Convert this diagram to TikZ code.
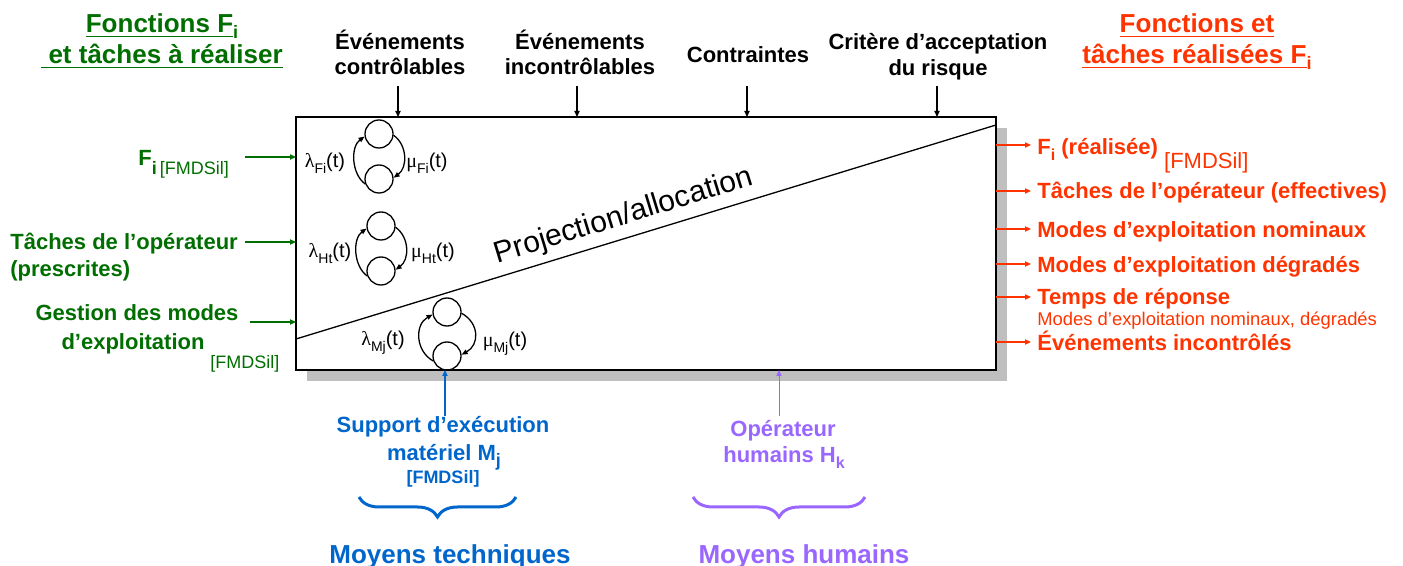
\documentclass[tikz,border=0pt]{standalone}
\usepackage{fontspec}
\setmainfont{Liberation Sans}
\newfontfamily\grk{Liberation Serif}
\usetikzlibrary{arrows.meta,decorations.pathreplacing}
\definecolor{fgreen}{RGB}{0,110,0}
\definecolor{fred}{RGB}{255,51,0}
\definecolor{fblue}{RGB}{0,102,204}
\definecolor{fpurp}{RGB}{153,102,255}
\definecolor{shad}{RGB}{191,191,191}
\newcommand\myul[1]{\setbox0\hbox{#1}\rlap{\rule[-2.2pt]{\wd0}{0.9pt}}\box0}
\newcommand\ratelbl[2]{{\grk #1}\raisebox{-3pt}{\fontsize{7}{8}\selectfont #2}(t)}
\begin{document}
\begin{tikzpicture}[x=0.5pt,y=-0.5pt,
  lbl/.style={font=\fontsize{11}{13}\selectfont\bfseries, inner sep=0pt},
  ttl/.style={font=\fontsize{13}{15}\selectfont\bfseries, inner sep=0pt},
  arr/.style={line width=0.6pt, -{Triangle[length=3pt,width=2.6pt]}},
  lp/.style={circle, draw, line width=0.65pt, minimum size=14pt, inner sep=0pt},
  lparc/.style={line width=0.65pt, -{Triangle[length=3pt,width=2.4pt]}},
  rate/.style={font=\fontsize{10}{12}\selectfont, inner sep=0pt, anchor=base},
  brc/.style={decorate, decoration={brace, amplitude=10pt}, line width=1.5pt}]
\useasboundingbox (0,0) rectangle (1403,566);
% box
\coordinate (bNW) at (296,117);
\coordinate (bSE) at (996,370);
\fill[shad] (307,128) rectangle (1007,381);
\draw[fill=white, line width=0.8pt] (bNW) rectangle (bSE);
\coordinate (dL) at (296,339);
\coordinate (dR) at (996,125);
\draw[line width=0.65pt] (dL) -- (dR);
\node[font=\fontsize{15}{18}\selectfont, rotate=17, anchor=base, inner sep=0pt] (proj) at (626,224) {Projection/allocation};
% titles
\node[ttl, text=fgreen, anchor=base] (lt1) at (162,33) {\myul{Fonctions F}\raisebox{-3pt}{\fontsize{9}{10}\selectfont i}};
\node[ttl, text=fgreen, anchor=base] (lt2) at (162,64) {\myul{\ et tâches à réaliser}};
\node[ttl, text=fred, anchor=base] (rt1) at (1197,33) {\myul{Fonctions et}};
\node[ttl, text=fred, anchor=base] (rt2) at (1197,64) {\myul{tâches réalisées F}\raisebox{-3pt}{\fontsize{9}{10}\selectfont i}};
% top labels
\node[lbl, anchor=base] (ec1) at (400,50) {Événements};
\node[lbl, anchor=base] (ec2) at (400,75) {contrôlables};
\node[lbl, anchor=base] (ei1) at (580,50) {Événements};
\node[lbl, anchor=base] (ei2) at (580,75) {incontrôlables};
\node[lbl, anchor=base] (ct1) at (748,63) {Contraintes};
\node[lbl, anchor=base] (cr1) at (938,50) {Critère d’acceptation};
\node[lbl, anchor=base] (cr2) at (938,76) {du risque};
\coordinate (ta1) at (398,86);
\coordinate (ta2) at (577,86);
\coordinate (ta3) at (747,86);
\coordinate (ta4) at (937,86);
\foreach \c in {ta1,ta2,ta3,ta4} \draw[arr] (\c) -- (\c |- bNW);
% left inputs
\node[lbl, text=fgreen, anchor=base west] (fi) at (138,166) {F\raisebox{-4.5pt}{\fontsize{9}{10}\selectfont i\,\mdseries[FMDSil]}};
\node[lbl, text=fgreen, anchor=base west] (tp1) at (10,250) {Tâches de l’opérateur};
\node[lbl, text=fgreen, anchor=base west] (tp2) at (10,277) {(prescrites)};
\node[lbl, text=fgreen, anchor=base] (gm1) at (137,321) {Gestion des modes};
\node[lbl, text=fgreen, anchor=base] (gm2) at (133,350) {d’exploitation};
\node[font=\fontsize{9}{10}\selectfont, text=fgreen, anchor=base west, inner sep=0pt] (gm3) at (210,369) {[FMDSil]};
\coordinate (la1) at (245,157);
\coordinate (la2) at (245,242);
\coordinate (la3) at (250,322);
\foreach \c in {la1,la2,la3} \draw[arr, fgreen] (\c) -- (\c -| bNW);
% right outputs
\node[lbl, text=fred, anchor=base west] (o1) at (1037,155) {F\raisebox{-3pt}{\fontsize{8}{9}\selectfont i} (réalisée)\raisebox{-7pt}{\mdseries\ [FMDSil]}};
\node[lbl, text=fred, anchor=base west] (o2) at (1037,199) {Tâches de l’opérateur (effectives)};
\node[lbl, text=fred, anchor=base west] (o3) at (1037,238) {Modes d’exploitation nominaux};
\node[lbl, text=fred, anchor=base west] (o4) at (1037,273) {Modes d’exploitation dégradés};
\node[lbl, text=fred, anchor=base west] (o5) at (1037,305) {Temps de réponse};
\node[font=\fontsize{9.2}{10}\selectfont, text=fred, anchor=base west, inner sep=0pt] (o6) at (1037,326) {Modes d’exploitation nominaux, dégradés};
\node[lbl, text=fred, anchor=base west] (o7) at (1037,351) {Événements incontrôlés};
\coordinate (ra1) at (1031,145);
\coordinate (ra2) at (1031,191);
\coordinate (ra3) at (1031,229);
\coordinate (ra4) at (1031,264);
\coordinate (ra5) at (1031,297);
\coordinate (ra6) at (1031,342);
\foreach \c in {ra1,ra2,ra3,ra4,ra5,ra6} \draw[arr, fred] (\c -| bSE) -- (\c);
% loops
\node[lp] (Ft) at (379,134) {};
\node[lp] (Fb) at (379,179) {};
\draw[lparc] (Fb.200) .. controls +(-14,-10) and +(-14,10) .. (Ft.190);
\draw[lparc] (Ft.-5) .. controls +(14,10) and +(14,-10) .. (Fb.5);
\node[lp] (Ht) at (381,226) {};
\node[lp] (Hb) at (381,271) {};
\draw[lparc] (Hb.200) .. controls +(-14,-10) and +(-14,10) .. (Ht.190);
\draw[lparc] (Ht.-5) .. controls +(14,10) and +(14,-10) .. (Hb.5);
\node[lp] (Mt) at (447,312) {};
\node[lp] (Mb) at (447,356) {};
\draw[lparc] (Mb.200) .. controls +(-18,-10) and +(-18,10) .. (Mt.190);
\draw[lparc] (Mt.-5) .. controls +(18,10) and +(18,-10) .. (Mb.5);
\node[rate] (lF) at (325,168) {\ratelbl{λ}{Fi}};
\node[rate] (mF) at (427,168) {\ratelbl{μ}{Fi}};
\node[rate] (lH) at (330,258) {\ratelbl{λ}{Ht}};
\node[rate] (mH) at (433,258) {\ratelbl{μ}{Ht}};
\node[rate] (lM) at (383,346) {\ratelbl{λ}{Mj}};
\node[rate] (mM) at (505,347) {\ratelbl{μ}{Mj}};
% bottom
\node[lbl, text=fblue, anchor=base] (s1) at (443,433) {Support d’exécution};
\node[lbl, text=fblue, anchor=base] (s2) at (444,460) {matériel M\raisebox{-3pt}{\fontsize{9}{10}\selectfont j}};
\node[font=\fontsize{9}{10}\selectfont\bfseries, text=fblue, anchor=base, inner sep=0pt] (s3) at (443,484) {[FMDSil]};
\coordinate (ba1) at (445,416);
\draw[arr, fblue] (ba1) -- (ba1 |- bSE);
\node[lbl, text=fpurp, anchor=base] (h1) at (783,437) {Opérateur};
\node[lbl, text=fpurp, anchor=base] (h2) at (784,463) {humains H\raisebox{-3pt}{\fontsize{8}{9}\selectfont k}};
\coordinate (ba2) at (779,416);
\draw[arr, fpurp, line width=0.4pt] (ba2) -- (ba2 |- bSE);
\coordinate (br1a) at (516,497);
\coordinate (br1b) at (359,497);
\coordinate (br2a) at (865,497);
\coordinate (br2b) at (693,497);
\draw[brc, fblue] (br1a) -- (br1b);
\draw[brc, fpurp] (br2a) -- (br2b);
\node[ttl, text=fblue, anchor=base] (mt) at (450,563) {Moyens techniques};
\node[ttl, text=fpurp, anchor=base] (mh) at (804,563) {Moyens humains};
\end{tikzpicture}
\end{document}
